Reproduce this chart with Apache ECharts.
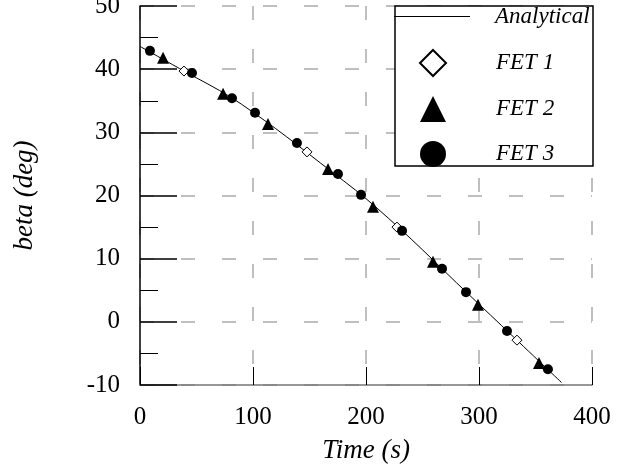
<!DOCTYPE html>
<html><head><meta charset="utf-8">
<script src="https://cdn.jsdelivr.net/npm/echarts@6/dist/echarts.min.js"></script>
<style>html,body{margin:0;padding:0;background:#fff}#c{width:623px;height:468px}</style>
</head><body><div id="c"></div>
<script>
var analyticalX = [0, 40, 80, 120, 160, 200, 240, 280, 320, 373];
var analyticalY = [43.6, 39.6, 35.6, 30.6, 25.1, 19.5, 13.1, 6.2, -0.6, -9.6];
var fet1X = [38.9, 147.8, 227.4, 333.6];
var fet1Y = [39.7, 26.9, 15.0, -2.9];
var fet2X = [20.4, 73.5, 113.3, 166.4, 206.2, 259.3, 299.1, 353.1];
var fet2Y = [41.8, 36.1, 31.3, 24.2, 18.2, 9.5, 2.7, -6.5];
var fet3X = [8.8, 46, 81.4, 101.8, 138.9, 175.2, 195.6, 231.9, 267.3, 288.5, 324.8, 361];
var fet3Y = [42.9, 39.4, 35.4, 33.1, 28.3, 23.4, 20.1, 14.4, 8.4, 4.7, -1.45, -7.5];
var xTicks = [0, 100, 200, 300, 400];
var yTicks = [-10, 0, 10, 20, 30, 40, 50];

function pairs(xs, ys) { return xs.map(function (x, i) { return [x, ys[i]]; }); }

var font = '"Liberation Serif"';
var legendText = {fontFamily: font, fontStyle: 'italic', fontSize: 23, color: '#000'};
var chart = echarts.init(document.getElementById('c'), null, {renderer: 'canvas'});
chart.setOption({
  animation: false,
  backgroundColor: '#fff',
  grid: {left: 140, right: 31, top: 6, bottom: 83, containLabel: false, outerBoundsMode: 'none'},
  xAxis: {
    type: 'value', min: xTicks[0], max: xTicks[xTicks.length - 1], interval: 100,
    name: 'Time (s)', nameLocation: 'middle', nameGap: 52,
    nameTextStyle: {fontFamily: font, fontStyle: 'italic', fontSize: 27, color: '#000'},
    axisLine: {show: true, onZero: false, lineStyle: {color: '#777', width: 1.5}},
    axisTick: {show: true, inside: true, length: 18, lineStyle: {color: '#000', width: 1}},
    axisLabel: {margin: 20, fontFamily: font, fontSize: 25, color: '#000'},
    splitLine: {show: true, lineStyle: {color: '#aaa', width: 1.5, type: [14, 29]}}
  },
  yAxis: {
    type: 'value', min: yTicks[0], max: yTicks[yTicks.length - 1], interval: 10,
    name: 'beta (deg)', nameLocation: 'middle', nameGap: 102,
    nameTextStyle: {fontFamily: font, fontStyle: 'italic', fontSize: 27, color: '#000'},
    axisLine: {show: true, onZero: false, lineStyle: {color: '#000', width: 1.5}},
    axisTick: {show: true, inside: true, length: 37, lineStyle: {color: '#000', width: 1.5}},
    minorTick: {show: true, splitNumber: 2, length: 18, lineStyle: {color: '#000', width: 1}},
    axisLabel: {margin: 20, fontFamily: font, fontSize: 25, color: '#000'},
    splitLine: {show: true, lineStyle: {color: '#aaa', width: 1.5, type: [14, 27]}}
  },
  legend: [{
    orient: 'vertical', left: 394, top: 5, padding: 0, z: 6,
    itemWidth: 76, itemHeight: 26, itemGap: 19,
    data: [{name: 'Analytical', icon: 'path://M0,0L76,0L76,1.2L0,1.2Z', itemStyle: {color: '#000'}}],
    textStyle: Object.assign({padding: [0, 0, 0, 20]}, legendText)
  }, {
    orient: 'vertical', left: 419, top: 49, padding: 0, z: 6,
    itemWidth: 26, itemHeight: 26, itemGap: 19,
    data: [
      {name: 'FET 1', icon: 'diamond'},
      {name: 'FET 2', icon: 'triangle'},
      {name: 'FET 3', icon: 'circle'}
    ],
    textStyle: Object.assign({padding: [0, 0, 0, 45]}, legendText)
  }],
  graphic: [{
    type: 'rect', z: 5, zlevel: 0,
    shape: {x: 395, y: 6, width: 198, height: 160},
    style: {fill: '#fff', stroke: '#000', lineWidth: 1.5}
  }],
  series: [
    {name: 'Analytical', type: 'line', data: pairs(analyticalX, analyticalY), symbol: 'none', smooth: 0.3,
     lineStyle: {color: '#000', width: 1}, itemStyle: {color: '#000'}, z: 2},
    {name: 'FET 1', type: 'scatter', data: pairs(fet1X, fet1Y), symbol: 'diamond', symbolSize: 10,
     itemStyle: {color: '#fff', borderColor: '#000', borderWidth: 1, opacity: 1}, z: 3},
    {name: 'FET 2', type: 'scatter', data: pairs(fet2X, fet2Y), symbol: 'triangle', symbolSize: 12,
     itemStyle: {color: '#000', opacity: 1}, z: 3},
    {name: 'FET 3', type: 'scatter', data: pairs(fet3X, fet3Y), symbol: 'circle', symbolSize: 10,
     itemStyle: {color: '#000', opacity: 1}, z: 3}
  ]
});
</script></body></html>
